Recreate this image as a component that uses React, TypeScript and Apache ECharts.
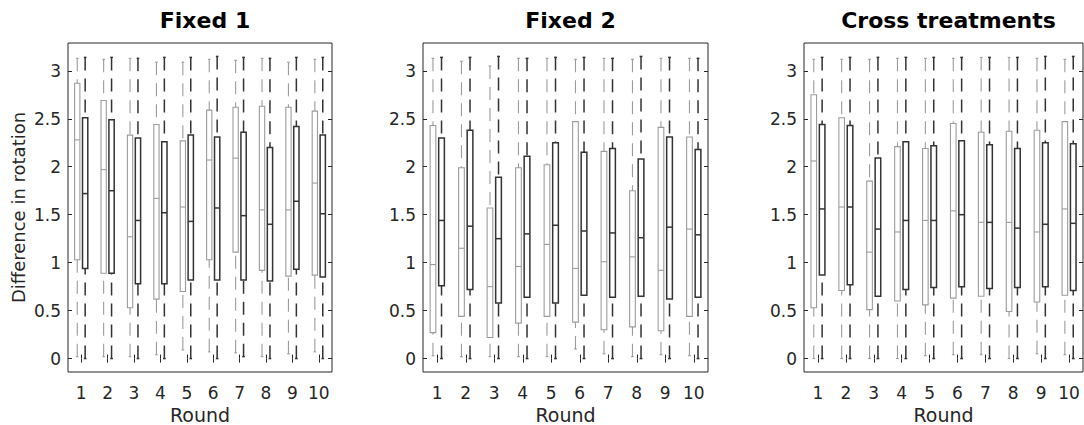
import React, { useEffect, useRef } from 'react';
import * as echarts from 'echarts';

const ROUNDS = ['1', '2', '3', '4', '5', '6', '7', '8', '9', '10'];
const Y_TICKS = [0, 0.5, 1, 1.5, 2, 2.5, 3];
const TITLES = ['Fixed 1', 'Fixed 2', 'Cross treatments'];
const X_NAME = 'Round';
const Y_NAME = 'Difference in rotation';

// Each entry: [lower whisker, Q1, median, Q3, upper whisker]
const FIXED1_LIGHT = [
  [0.02, 1.03, 2.28, 2.87, 3.13], [0.02, 0.89, 1.97, 2.69, 3.12], [0.02, 0.53, 1.27, 2.33, 3.13],
  [0.04, 0.62, 1.67, 2.44, 3.09], [0.09, 0.70, 1.58, 2.27, 3.09], [0.07, 1.03, 2.07, 2.59, 3.12],
  [0.06, 1.11, 2.09, 2.62, 3.11], [0.02, 0.92, 1.55, 2.63, 3.13], [0.05, 0.86, 1.55, 2.62, 3.09],
  [0.07, 0.87, 1.83, 2.58, 3.12],
];
const FIXED1_DARK = [
  [0, 0.94, 1.72, 2.51, 3.14], [0, 0.89, 1.75, 2.49, 3.14], [0, 0.78, 1.44, 2.30, 3.13],
  [0, 0.78, 1.52, 2.26, 3.14], [0, 0.82, 1.43, 2.33, 3.14], [0, 0.82, 1.57, 2.31, 3.15],
  [0.02, 0.82, 1.49, 2.36, 3.14], [0, 0.81, 1.40, 2.20, 3.13], [0, 0.93, 1.64, 2.42, 3.14],
  [0, 0.85, 1.51, 2.33, 3.14],
];
const FIXED2_LIGHT = [
  [0.03, 0.27, 0.98, 2.43, 3.13], [0.02, 0.44, 1.15, 1.99, 3.10], [0.02, 0.22, 0.75, 1.57, 3.05],
  [0.02, 0.37, 0.96, 1.99, 3.13], [0.02, 0.44, 1.19, 2.02, 3.13], [0.10, 0.38, 0.94, 2.47, 3.12],
  [0.05, 0.30, 1.01, 2.16, 3.13], [0.02, 0.33, 1.06, 1.75, 3.12], [0.04, 0.29, 0.92, 2.41, 3.13],
  [0.03, 0.44, 1.35, 2.31, 3.13],
];
const FIXED2_DARK = [
  [0, 0.76, 1.44, 2.30, 3.14], [0, 0.72, 1.38, 2.38, 3.14], [0, 0.58, 1.25, 1.89, 3.15],
  [0, 0.64, 1.30, 2.11, 3.13], [0, 0.58, 1.39, 2.25, 3.14], [0, 0.66, 1.33, 2.15, 3.14],
  [0, 0.64, 1.31, 2.19, 3.13], [0, 0.65, 1.26, 2.08, 3.15], [0, 0.62, 1.37, 2.31, 3.14],
  [0, 0.64, 1.29, 2.18, 3.13],
];
const CROSS_LIGHT = [
  [0, 0.53, 2.06, 2.75, 3.12], [0, 0.71, 1.58, 2.51, 3.12], [0, 0.51, 1.11, 1.85, 3.12],
  [0, 0.60, 1.32, 2.21, 3.13], [0.03, 0.56, 1.44, 2.19, 3.13], [0.04, 0.63, 1.54, 2.45, 3.13],
  [0.04, 0.65, 1.42, 2.36, 3.14], [0, 0.49, 1.42, 2.37, 3.14], [0.05, 0.59, 1.32, 2.38, 3.13],
  [0.04, 0.66, 1.56, 2.47, 3.12],
];
const CROSS_DARK = [
  [0, 0.87, 1.56, 2.44, 3.14], [0, 0.77, 1.58, 2.43, 3.14], [0, 0.65, 1.35, 2.09, 3.14],
  [0, 0.72, 1.44, 2.26, 3.14], [0, 0.74, 1.44, 2.22, 3.14], [0, 0.75, 1.50, 2.27, 3.14],
  [0, 0.73, 1.42, 2.23, 3.14], [0, 0.74, 1.36, 2.19, 3.14], [0, 0.75, 1.40, 2.25, 3.15],
  [0, 0.71, 1.41, 2.24, 3.15],
];

const PANELS = [
  { light: FIXED1_LIGHT, dark: FIXED1_DARK },
  { light: FIXED2_LIGHT, dark: FIXED2_DARK },
  { light: CROSS_LIGHT, dark: CROSS_DARK },
];

// layout (pixels)
const GRIDS = [
  { left: 68, width: 264 },
  { left: 423, width: 285 },
  { left: 804, width: 279 },
];
const GRID_TOP = 43;
const GRID_HEIGHT = 329;
const Y_MIN = -0.14;
const Y_MAX = 3.29;

const FONT = '"DejaVu Sans", sans-serif';
const AXIS_COLOR = '#262626';
const LIGHT_COLOR = '#9c9c9c';
const DARK_COLOR = '#333333';

const BOX_W = 0.2;
const CAP_W = 0.1;
const DASH = [13, 8];

function makeRenderer(offset: number, color: string, lw: number) {
  return (params: any, api: any) => {
    const idx = api.value(0);
    const lo = api.coord([idx, api.value(1)]);
    const q1 = api.coord([idx, api.value(2)]);
    const md = api.coord([idx, api.value(3)]);
    const q3 = api.coord([idx, api.value(4)]);
    const hi = api.coord([idx, api.value(5)]);
    const band = api.size([1, 0])[0];
    const cx = lo[0] + offset * band;
    const hw = (BOX_W * band) / 2;
    const cw = (CAP_W * band) / 2;
    const dashStyle = { stroke: color, lineWidth: lw, lineDash: DASH, fill: 'none' };
    const solid = { stroke: color, lineWidth: lw, fill: 'none' };
    return {
      type: 'group',
      children: [
        { type: 'line', shape: { x1: cx, y1: hi[1], x2: cx, y2: q3[1] }, style: dashStyle },
        { type: 'line', shape: { x1: cx, y1: lo[1], x2: cx, y2: q1[1] }, style: dashStyle },
        { type: 'line', shape: { x1: cx - cw, y1: hi[1], x2: cx + cw, y2: hi[1] }, style: solid },
        { type: 'line', shape: { x1: cx - cw, y1: lo[1], x2: cx + cw, y2: lo[1] }, style: solid },
        {
          type: 'rect',
          shape: { x: cx - hw, y: q3[1], width: 2 * hw, height: q1[1] - q3[1] },
          style: solid,
        },
        { type: 'line', shape: { x1: cx - hw, y1: md[1], x2: cx + hw, y2: md[1] }, style: solid },
      ],
    };
  };
}

export default function App() {
  const ref = useRef<HTMLDivElement>(null);

  useEffect(() => {
    document.body.style.margin = '0';
    if (!ref.current) return;
    const chart = echarts.init(ref.current, undefined, { renderer: 'svg' });

    const grid: any[] = [];
    const xAxis: any[] = [];
    const yAxis: any[] = [];
    const series: any[] = [];
    const title: any[] = [];

    PANELS.forEach((p, i) => {
      const g = GRIDS[i];
      grid.push({
        left: g.left,
        width: g.width,
        top: GRID_TOP,
        height: GRID_HEIGHT,
        containLabel: false,
        outerBoundsMode: 'none',
        show: true,
        borderColor: AXIS_COLOR,
        borderWidth: 1,
        backgroundColor: 'transparent',
      });
      title.push({
        text: TITLES[i],
        left: g.left + g.width / 2,
        textAlign: 'center',
        top: 4,
        textStyle: { fontFamily: FONT, fontSize: 22, fontWeight: 'bold', color: '#000' },
      });
      const tick = { show: true, inside: true, length: 4, alignWithLabel: true, lineStyle: { color: AXIS_COLOR, width: 1 } };
      xAxis.push({
        type: 'category',
        gridIndex: i,
        data: ROUNDS,
        position: 'bottom',
        axisLine: { show: false },
        axisTick: tick,
        axisLabel: { color: AXIS_COLOR, fontFamily: FONT, fontSize: 17, margin: 12, interval: 0 },
        name: X_NAME,
        nameLocation: 'middle',
        nameGap: 26,
        nameTextStyle: { color: AXIS_COLOR, fontFamily: FONT, fontSize: 19 },
        splitLine: { show: false },
      });
      xAxis.push({
        type: 'category',
        gridIndex: i,
        data: ROUNDS,
        position: 'top',
        axisLine: { show: false },
        axisTick: tick,
        axisLabel: { show: false },
        splitLine: { show: false },
      });
      const yTick = { show: true, inside: true, length: 4, customValues: Y_TICKS, lineStyle: { color: AXIS_COLOR, width: 1 } };
      yAxis.push({
        type: 'value',
        gridIndex: i,
        position: 'left',
        min: Y_MIN,
        max: Y_MAX,
        axisLine: { show: false },
        axisTick: yTick,
        axisLabel: { color: AXIS_COLOR, fontFamily: FONT, fontSize: 17, margin: 7, customValues: Y_TICKS },
        splitLine: { show: false },
        ...(i === 0
          ? {
              name: Y_NAME,
              nameLocation: 'middle',
              nameGap: 41,
              nameRotate: 90,
              nameTextStyle: { color: AXIS_COLOR, fontFamily: FONT, fontSize: 18 },
            }
          : {}),
      });
      yAxis.push({
        type: 'value',
        gridIndex: i,
        position: 'right',
        min: Y_MIN,
        max: Y_MAX,
        axisLine: { show: false },
        axisTick: yTick,
        axisLabel: { show: false },
        splitLine: { show: false },
      });
      const lightData = ROUNDS.map((_, k) => [k, ...p.light[k]]);
      const darkData = ROUNDS.map((_, k) => [k, ...p.dark[k]]);
      series.push({
        type: 'custom',
        xAxisIndex: 2 * i,
        yAxisIndex: 2 * i,
        data: lightData,
        encode: { x: 0, y: [1, 2, 3, 4, 5] },
        renderItem: makeRenderer(-0.15, LIGHT_COLOR, 1.1),
        silent: true,
      });
      series.push({
        type: 'custom',
        xAxisIndex: 2 * i,
        yAxisIndex: 2 * i,
        data: darkData,
        encode: { x: 0, y: [1, 2, 3, 4, 5] },
        renderItem: makeRenderer(0.15, DARK_COLOR, 1.5),
        silent: true,
      });
    });

    chart.setOption({
      animation: false,
      backgroundColor: '#ffffff',
      title,
      grid,
      xAxis,
      yAxis,
      series,
    });
    return () => chart.dispose();
  }, []);

  return <div ref={ref} style={{ width: 1084, height: 425 }} />;
}
